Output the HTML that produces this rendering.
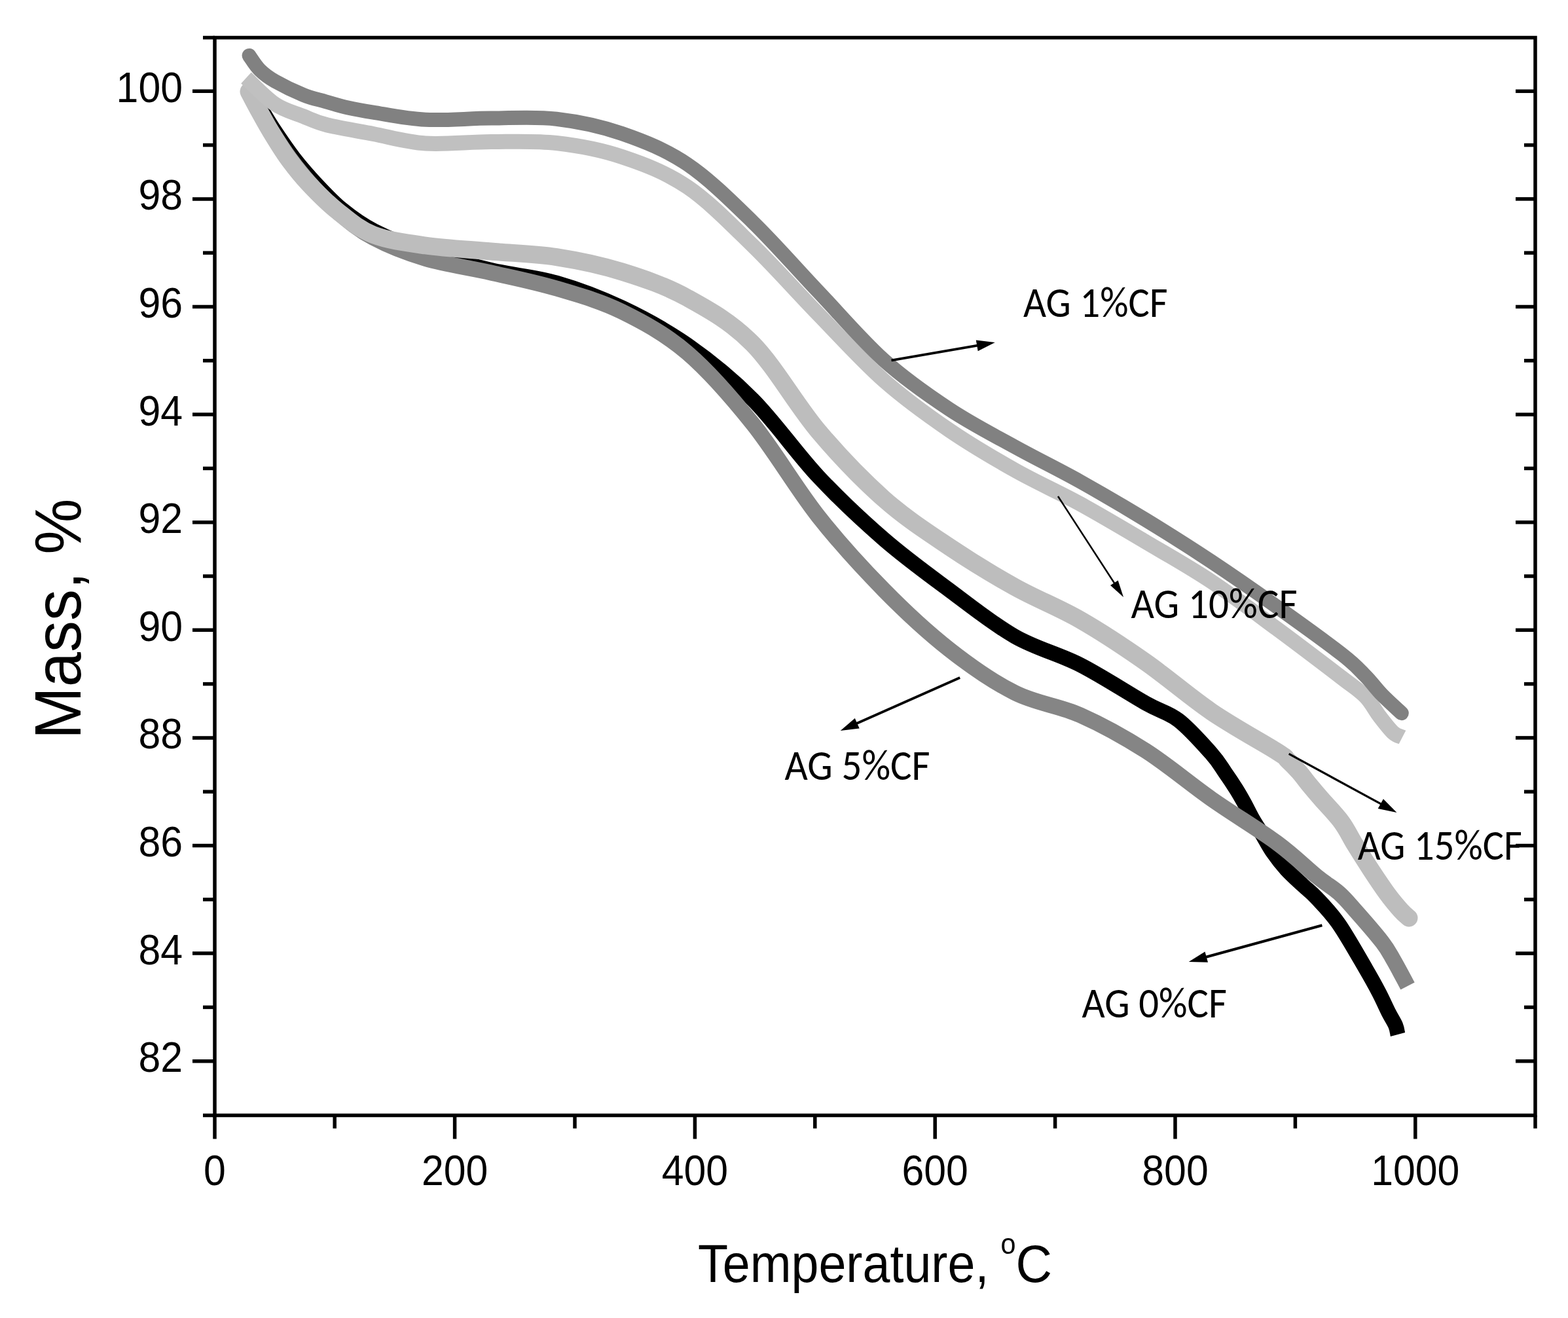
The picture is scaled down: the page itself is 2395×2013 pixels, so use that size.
<!DOCTYPE html><html><head><meta charset="utf-8"><title>TGA</title><style>html,body{margin:0;padding:0;background:#fff;}svg{display:block}</style></head><body>
<svg xmlns="http://www.w3.org/2000/svg" width="2395" height="2013" viewBox="0 0 2395 2013">
<rect width="2395" height="2013" fill="#fff"/>
<path d="M379.0,136.0 C382.3,141.2 392.3,156.5 399.0,167.0 C405.7,177.5 410.8,186.7 419.0,199.0 C427.2,211.3 438.2,227.7 448.5,241.0 C458.8,254.3 468.8,265.9 481.0,279.0 C493.2,292.1 507.0,307.2 522.0,319.5 C537.0,331.8 549.7,341.6 571.0,352.5 C592.3,363.4 620.2,375.0 650.0,385.0 C679.8,395.0 716.7,404.7 750.0,412.5 C783.3,420.3 816.7,422.4 850.0,432.0 C883.3,441.6 916.7,454.2 950.0,470.0 C983.3,485.8 1016.7,503.6 1050.0,527.0 C1083.3,550.4 1116.7,577.0 1150.0,610.5 C1183.3,644.0 1216.7,692.5 1250.0,728.0 C1283.3,763.5 1316.7,794.6 1350.0,823.5 C1383.3,852.4 1416.7,876.5 1450.0,901.2 C1483.3,926.0 1516.7,953.0 1550.0,972.0 C1583.3,991.0 1616.7,998.5 1650.0,1015.5 C1683.3,1032.5 1725.0,1059.9 1750.0,1074.0 C1775.0,1088.1 1783.3,1087.2 1800.0,1100.0 C1816.7,1112.8 1838.1,1137.3 1850.0,1150.6 C1861.9,1163.9 1864.9,1170.7 1871.3,1179.8 C1877.7,1188.9 1883.4,1197.5 1888.3,1205.3 C1893.2,1213.1 1896.3,1218.7 1900.6,1226.5 C1904.9,1234.3 1909.4,1244.0 1914.0,1252.0 C1918.6,1260.0 1923.1,1266.4 1928.0,1274.5 C1932.9,1282.6 1937.5,1291.9 1943.6,1300.8 C1949.7,1309.7 1957.1,1319.2 1964.8,1327.7 C1972.5,1336.2 1982.3,1344.7 1990.0,1352.0 C1997.7,1359.3 2001.8,1361.5 2011.0,1371.4 C2020.2,1381.3 2032.5,1393.3 2045.0,1411.4 C2057.6,1429.5 2076.1,1462.6 2086.3,1480.0 C2096.5,1497.4 2100.6,1505.0 2106.3,1516.0 C2112.1,1527.0 2116.6,1537.7 2120.8,1546.0 C2125.0,1554.3 2129.2,1560.3 2131.6,1566.0 C2134.0,1571.7 2134.4,1577.7 2135.0,1580.0" fill="none" stroke="#000000" stroke-width="23" stroke-linecap="butt" stroke-linejoin="round"/>
<path d="M381.0,141.0 C383.8,145.8 392.3,160.2 398.0,170.0 C403.7,179.8 407.5,188.0 415.0,200.0 C422.5,212.0 433.2,228.7 443.0,242.0 C452.8,255.3 461.6,266.5 473.6,280.0 C485.6,293.5 498.9,309.2 515.0,323.0 C531.1,336.8 547.5,351.0 570.0,363.0 C592.5,375.0 620.0,386.1 650.0,395.0 C680.0,403.9 716.7,408.9 750.0,416.5 C783.3,424.1 816.7,430.7 850.0,440.6 C883.3,450.5 916.7,459.6 950.0,476.0 C983.3,492.4 1016.7,510.4 1050.0,539.0 C1083.3,567.6 1116.7,606.0 1150.0,647.6 C1183.3,689.2 1216.7,746.5 1250.0,788.7 C1283.3,830.9 1316.7,867.1 1350.0,901.0 C1383.3,934.9 1416.7,965.8 1450.0,992.0 C1483.3,1018.2 1516.7,1041.3 1550.0,1058.0 C1583.3,1074.7 1616.7,1077.4 1650.0,1092.2 C1683.3,1107.0 1716.7,1125.4 1750.0,1146.7 C1783.3,1168.0 1816.7,1196.6 1850.0,1220.0 C1883.3,1243.4 1923.2,1267.3 1950.0,1287.0 C1976.8,1306.7 1995.2,1325.5 2011.0,1338.3 C2026.8,1351.1 2035.1,1355.0 2045.0,1363.8 C2054.9,1372.6 2059.4,1378.5 2070.5,1391.0 C2081.6,1403.5 2101.6,1426.5 2111.3,1439.0 C2121.0,1451.5 2123.2,1457.2 2128.5,1466.3 C2133.8,1475.4 2139.8,1486.9 2143.4,1493.5 C2147.0,1500.1 2148.9,1503.9 2150.0,1506.0" fill="none" stroke="#858585" stroke-width="24" stroke-linecap="butt" stroke-linejoin="round"/>
<path d="M380.0,140.0 C382.7,145.0 390.5,160.0 396.0,170.0 C401.5,180.0 405.7,188.0 413.0,200.0 C420.3,212.0 430.3,228.7 440.0,242.0 C449.7,255.3 458.5,266.7 471.0,280.0 C483.5,293.3 498.5,308.9 515.0,322.0 C531.5,335.1 547.5,349.7 570.0,358.5 C592.5,367.3 620.0,370.8 650.0,375.0 C680.0,379.2 716.7,381.1 750.0,384.0 C783.3,386.9 816.7,387.4 850.0,392.6 C883.3,397.8 916.7,404.6 950.0,415.0 C983.3,425.4 1016.7,436.6 1050.0,455.0 C1083.3,473.4 1116.7,491.6 1150.0,525.5 C1183.3,559.4 1216.7,619.1 1250.0,658.5 C1283.3,697.9 1316.7,732.5 1350.0,762.0 C1383.3,791.5 1416.7,812.9 1450.0,835.3 C1483.3,857.7 1516.7,877.9 1550.0,896.5 C1583.3,915.1 1616.7,927.6 1650.0,946.8 C1683.3,965.9 1716.7,988.1 1750.0,1011.4 C1783.3,1034.7 1816.7,1064.1 1850.0,1086.8 C1883.3,1109.5 1930.5,1135.2 1950.0,1147.6 C1969.5,1160.0 1961.3,1156.0 1967.0,1161.2 C1972.7,1166.4 1978.3,1172.2 1984.0,1178.7 C1989.7,1185.2 1995.3,1193.0 2001.0,1199.9 C2006.7,1206.8 2010.0,1210.7 2018.0,1219.9 C2026.0,1229.2 2040.3,1243.6 2049.0,1255.4 C2057.7,1267.2 2062.5,1278.5 2070.2,1290.9 C2077.9,1303.3 2086.9,1317.7 2095.0,1330.0 C2103.1,1342.3 2111.5,1354.9 2118.9,1365.0 C2126.3,1375.1 2134.2,1384.3 2139.7,1390.5 C2145.2,1396.7 2149.9,1400.1 2152.0,1402.0" fill="none" stroke="#bdbdbd" stroke-width="27" stroke-linecap="round" stroke-linejoin="round"/>
<path d="M376.0,119.0 C383.3,125.7 405.5,149.2 420.0,159.0 C434.5,168.8 449.7,172.2 463.0,177.5 C476.3,182.8 482.2,186.5 500.0,191.0 C517.8,195.5 545.0,199.8 570.0,204.5 C595.0,209.2 620.0,217.0 650.0,219.0 C680.0,221.0 716.7,216.6 750.0,216.5 C783.3,216.4 816.7,214.7 850.0,218.5 C883.3,222.3 916.7,228.3 950.0,239.5 C983.3,250.7 1016.7,263.0 1050.0,285.6 C1083.3,308.2 1116.7,342.9 1150.0,375.3 C1183.3,407.7 1216.7,445.7 1250.0,480.0 C1283.3,514.3 1316.7,551.5 1350.0,581.0 C1383.3,610.5 1416.7,634.2 1450.0,657.0 C1483.3,679.8 1516.7,699.2 1550.0,718.0 C1583.3,736.8 1616.7,751.4 1650.0,769.7 C1683.3,788.0 1716.7,807.9 1750.0,827.6 C1783.3,847.3 1816.7,865.9 1850.0,888.0 C1883.3,910.1 1916.7,935.4 1950.0,960.0 C1983.3,984.6 2027.4,1018.2 2050.0,1035.5 C2072.6,1052.8 2076.0,1054.1 2085.5,1063.8 C2095.0,1073.5 2099.7,1084.3 2106.8,1093.5 C2113.9,1102.7 2122.1,1113.6 2128.0,1119.0 C2133.9,1124.4 2139.7,1124.8 2142.0,1126.0" fill="none" stroke="#c0c0c0" stroke-width="23" stroke-linecap="butt" stroke-linejoin="round"/>
<path d="M380.6,84.9 C383.3,88.6 390.4,100.5 397.0,107.0 C403.6,113.5 408.9,117.7 420.0,124.0 C431.1,130.3 450.5,139.8 463.4,145.0 C476.3,150.2 486.1,151.9 497.4,155.2 C508.7,158.4 519.3,161.8 531.4,164.5 C543.5,167.2 550.2,168.5 570.0,171.6 C589.8,174.7 620.0,181.3 650.0,182.8 C680.0,184.3 716.7,180.8 750.0,180.6 C783.3,180.4 816.7,177.8 850.0,181.7 C883.3,185.6 916.7,192.4 950.0,204.0 C983.3,215.6 1016.7,228.4 1050.0,251.0 C1083.3,273.6 1116.7,306.9 1150.0,339.3 C1183.3,371.7 1216.7,410.4 1250.0,445.5 C1283.3,480.6 1316.7,520.1 1350.0,550.0 C1383.3,579.9 1416.7,602.9 1450.0,625.0 C1483.3,647.1 1516.7,664.0 1550.0,682.4 C1583.3,700.8 1616.7,716.9 1650.0,735.5 C1683.3,754.1 1716.7,773.7 1750.0,794.0 C1783.3,814.3 1816.7,835.4 1850.0,857.5 C1883.3,879.6 1916.7,902.8 1950.0,926.5 C1983.3,950.2 2027.4,982.0 2050.0,999.6 C2072.6,1017.2 2075.3,1022.0 2085.5,1032.3 C2095.7,1042.6 2101.8,1051.7 2111.0,1061.2 C2120.2,1070.7 2135.8,1084.6 2140.8,1089.3" fill="none" stroke="#818181" stroke-width="22" stroke-linecap="round" stroke-linejoin="round"/>
<g stroke="#000" stroke-width="5.5" fill="none" stroke-linecap="square">
<rect x="328.0" y="57.5" width="2017.0" height="1646.0" stroke-linecap="butt"/>
<line x1="310.0" y1="1703.5" x2="328.0" y2="1703.5" stroke-linecap="butt"/>
<line x1="294.0" y1="1620.7" x2="328.0" y2="1620.7" stroke-linecap="butt"/>
<line x1="2345.0" y1="1620.7" x2="2315.0" y2="1620.7" stroke-linecap="butt"/>
<line x1="310.0" y1="1538.4" x2="328.0" y2="1538.4" stroke-linecap="butt"/>
<line x1="2345.0" y1="1538.4" x2="2328.0" y2="1538.4" stroke-linecap="butt"/>
<line x1="294.0" y1="1456.1" x2="328.0" y2="1456.1" stroke-linecap="butt"/>
<line x1="2345.0" y1="1456.1" x2="2315.0" y2="1456.1" stroke-linecap="butt"/>
<line x1="310.0" y1="1373.8" x2="328.0" y2="1373.8" stroke-linecap="butt"/>
<line x1="2345.0" y1="1373.8" x2="2328.0" y2="1373.8" stroke-linecap="butt"/>
<line x1="294.0" y1="1291.5" x2="328.0" y2="1291.5" stroke-linecap="butt"/>
<line x1="2345.0" y1="1291.5" x2="2315.0" y2="1291.5" stroke-linecap="butt"/>
<line x1="310.0" y1="1209.2" x2="328.0" y2="1209.2" stroke-linecap="butt"/>
<line x1="2345.0" y1="1209.2" x2="2328.0" y2="1209.2" stroke-linecap="butt"/>
<line x1="294.0" y1="1126.9" x2="328.0" y2="1126.9" stroke-linecap="butt"/>
<line x1="2345.0" y1="1126.9" x2="2315.0" y2="1126.9" stroke-linecap="butt"/>
<line x1="310.0" y1="1044.6" x2="328.0" y2="1044.6" stroke-linecap="butt"/>
<line x1="2345.0" y1="1044.6" x2="2328.0" y2="1044.6" stroke-linecap="butt"/>
<line x1="294.0" y1="962.3" x2="328.0" y2="962.3" stroke-linecap="butt"/>
<line x1="2345.0" y1="962.3" x2="2315.0" y2="962.3" stroke-linecap="butt"/>
<line x1="310.0" y1="880.0" x2="328.0" y2="880.0" stroke-linecap="butt"/>
<line x1="2345.0" y1="880.0" x2="2328.0" y2="880.0" stroke-linecap="butt"/>
<line x1="294.0" y1="797.7" x2="328.0" y2="797.7" stroke-linecap="butt"/>
<line x1="2345.0" y1="797.7" x2="2315.0" y2="797.7" stroke-linecap="butt"/>
<line x1="310.0" y1="715.4" x2="328.0" y2="715.4" stroke-linecap="butt"/>
<line x1="2345.0" y1="715.4" x2="2328.0" y2="715.4" stroke-linecap="butt"/>
<line x1="294.0" y1="633.1" x2="328.0" y2="633.1" stroke-linecap="butt"/>
<line x1="2345.0" y1="633.1" x2="2315.0" y2="633.1" stroke-linecap="butt"/>
<line x1="310.0" y1="550.8" x2="328.0" y2="550.8" stroke-linecap="butt"/>
<line x1="2345.0" y1="550.8" x2="2328.0" y2="550.8" stroke-linecap="butt"/>
<line x1="294.0" y1="468.5" x2="328.0" y2="468.5" stroke-linecap="butt"/>
<line x1="2345.0" y1="468.5" x2="2315.0" y2="468.5" stroke-linecap="butt"/>
<line x1="310.0" y1="386.2" x2="328.0" y2="386.2" stroke-linecap="butt"/>
<line x1="2345.0" y1="386.2" x2="2328.0" y2="386.2" stroke-linecap="butt"/>
<line x1="294.0" y1="303.9" x2="328.0" y2="303.9" stroke-linecap="butt"/>
<line x1="2345.0" y1="303.9" x2="2315.0" y2="303.9" stroke-linecap="butt"/>
<line x1="310.0" y1="221.6" x2="328.0" y2="221.6" stroke-linecap="butt"/>
<line x1="2345.0" y1="221.6" x2="2328.0" y2="221.6" stroke-linecap="butt"/>
<line x1="294.0" y1="139.3" x2="328.0" y2="139.3" stroke-linecap="butt"/>
<line x1="2345.0" y1="139.3" x2="2315.0" y2="139.3" stroke-linecap="butt"/>
<line x1="310.0" y1="57.5" x2="328.0" y2="57.5" stroke-linecap="butt"/>
<line x1="328.0" y1="1703.5" x2="328.0" y2="1739.5" stroke-linecap="butt"/>
<line x1="511.2" y1="1703.5" x2="511.2" y2="1723.5" stroke-linecap="butt"/>
<line x1="694.6" y1="1703.5" x2="694.6" y2="1739.5" stroke-linecap="butt"/>
<line x1="878.0" y1="1703.5" x2="878.0" y2="1723.5" stroke-linecap="butt"/>
<line x1="1061.4" y1="1703.5" x2="1061.4" y2="1739.5" stroke-linecap="butt"/>
<line x1="1244.8" y1="1703.5" x2="1244.8" y2="1723.5" stroke-linecap="butt"/>
<line x1="1428.2" y1="1703.5" x2="1428.2" y2="1739.5" stroke-linecap="butt"/>
<line x1="1611.6" y1="1703.5" x2="1611.6" y2="1723.5" stroke-linecap="butt"/>
<line x1="1795.0" y1="1703.5" x2="1795.0" y2="1739.5" stroke-linecap="butt"/>
<line x1="1978.4" y1="1703.5" x2="1978.4" y2="1723.5" stroke-linecap="butt"/>
<line x1="2161.8" y1="1703.5" x2="2161.8" y2="1739.5" stroke-linecap="butt"/>
<line x1="2345.0" y1="1703.5" x2="2345.0" y2="1723.5" stroke-linecap="butt"/>
</g>
<g font-family="Liberation Sans, Arial, Helvetica, sans-serif" font-size="65" fill="#000">
<text transform="translate(279,1637.2) scale(0.935,1)" text-anchor="end">82</text>
<text transform="translate(279,1472.6) scale(0.935,1)" text-anchor="end">84</text>
<text transform="translate(279,1308.0) scale(0.935,1)" text-anchor="end">86</text>
<text transform="translate(279,1143.4) scale(0.935,1)" text-anchor="end">88</text>
<text transform="translate(279,978.8) scale(0.935,1)" text-anchor="end">90</text>
<text transform="translate(279,814.2) scale(0.935,1)" text-anchor="end">92</text>
<text transform="translate(279,649.6) scale(0.935,1)" text-anchor="end">94</text>
<text transform="translate(279,485.0) scale(0.935,1)" text-anchor="end">96</text>
<text transform="translate(279,320.4) scale(0.935,1)" text-anchor="end">98</text>
<text transform="translate(279,155.8) scale(0.935,1)" text-anchor="end">100</text>
<text transform="translate(327.8,1810) scale(0.935,1)" text-anchor="middle">0</text>
<text transform="translate(694.6,1810) scale(0.935,1)" text-anchor="middle">200</text>
<text transform="translate(1061.4,1810) scale(0.935,1)" text-anchor="middle">400</text>
<text transform="translate(1428.2,1810) scale(0.935,1)" text-anchor="middle">600</text>
<text transform="translate(1795.0,1810) scale(0.935,1)" text-anchor="middle">800</text>
<text transform="translate(2161.8,1810) scale(0.935,1)" text-anchor="middle">1000</text>
</g>
<text font-family="Liberation Sans, Arial, Helvetica, sans-serif" font-size="82" transform="translate(1066,1958) scale(0.92,1)" >Temperature,</text>
<text font-family="Liberation Sans, Arial, Helvetica, sans-serif" font-size="45" transform="translate(1528.5,1914.5) scale(0.92,1)">o</text>
<text font-family="Liberation Sans, Arial, Helvetica, sans-serif" font-size="80" transform="translate(1551.5,1958) scale(0.96,1)">C</text>
<text font-family="Liberation Sans, Arial, Helvetica, sans-serif" font-size="101" transform="translate(123.3,1129) rotate(-90) scale(0.949,1)">Mass, %</text>
<text x="1562.9" y="483.6" font-family="Carlito, Calibri, Liberation Sans, sans-serif" font-size="65" textLength="220.7" lengthAdjust="spacingAndGlyphs">AG 1%CF</text>
<text x="1727.4" y="944.0" font-family="Carlito, Calibri, Liberation Sans, sans-serif" font-size="65" textLength="254.3" lengthAdjust="spacingAndGlyphs">AG 10%CF</text>
<text x="1198.5" y="1190.7" font-family="Carlito, Calibri, Liberation Sans, sans-serif" font-size="65" textLength="222.1" lengthAdjust="spacingAndGlyphs">AG 5%CF</text>
<text x="2073.7" y="1313.4" font-family="Carlito, Calibri, Liberation Sans, sans-serif" font-size="65" textLength="251.1" lengthAdjust="spacingAndGlyphs">AG 15%CF</text>
<text x="1652.4" y="1554.0" font-family="Carlito, Calibri, Liberation Sans, sans-serif" font-size="65" textLength="221.6" lengthAdjust="spacingAndGlyphs">AG 0%CF</text>
<line x1="1361.5" y1="550.4" x2="1500.5" y2="526.4" stroke="#000" stroke-width="4.0"/>
<polygon points="1519.8,523.1 1493.7,536.2 1490.8,519.5" fill="#000"/>
<line x1="1616.0" y1="758.0" x2="1706.1" y2="896.7" stroke="#000" stroke-width="2.5"/>
<polygon points="1716.0,912.0 1696.0,894.0 1707.7,886.4" fill="#000"/>
<line x1="1466.2" y1="1035.0" x2="1301.6" y2="1108.0" stroke="#000" stroke-width="4.0"/>
<polygon points="1283.7,1116.0 1305.8,1096.9 1312.7,1112.4" fill="#000"/>
<line x1="1968.7" y1="1151.4" x2="2116.2" y2="1231.6" stroke="#000" stroke-width="3.2"/>
<polygon points="2133.4,1241.0 2104.7,1235.1 2112.9,1220.2" fill="#000"/>
<line x1="2019.4" y1="1413.2" x2="1834.6" y2="1463.8" stroke="#000" stroke-width="4.0"/>
<polygon points="1815.7,1469.0 1840.5,1453.4 1845.0,1469.8" fill="#000"/>
</svg></body></html>
